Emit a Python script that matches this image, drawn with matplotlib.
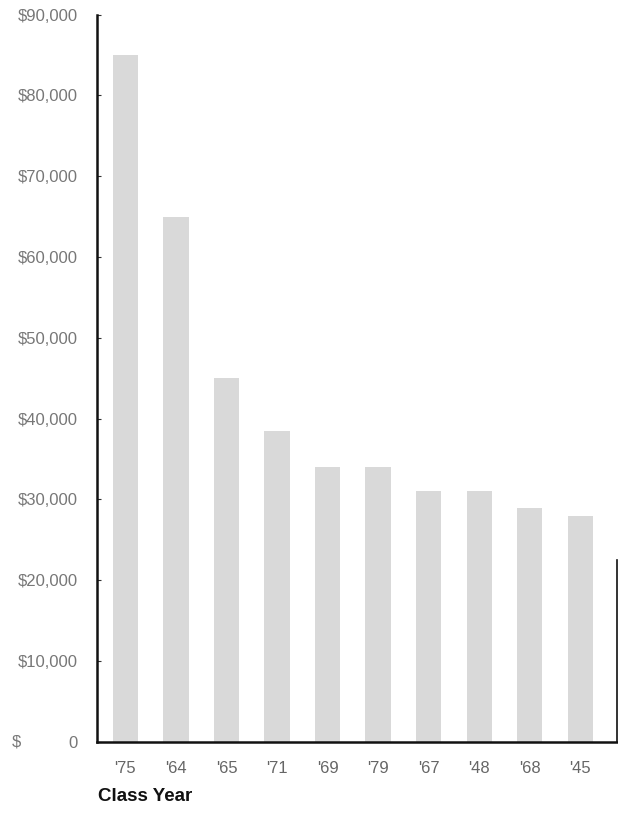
import matplotlib.pyplot as plt
from matplotlib.ticker import FuncFormatter

# Data
class_years = ["'75", "'64", "'65", "'71", "'69", "'79", "'67", "'48", "'68", "'45"]
gifts = [85000, 65000, 45000, 38500, 34000, 34000, 31000, 31000, 29000, 28000]
y_ticks = list(range(0, 90001, 10000))

fig = plt.figure(figsize=(6.18, 8.17), dpi=100)
ax = fig.add_axes([0.157, 0.092, 0.841, 0.89])

x = range(len(class_years))
ax.bar(x, gifts, width=0.5, color='#d9d9d9', edgecolor='none')

ax.set_xlim(-0.56, 9.72)
ax.set_ylim(0, 90000)
ax.set_xticks(list(x))
ax.set_xticklabels(class_years)
ax.set_yticks(y_ticks)


def money(v, pos):
    if v == 0:
        return '0'
    return '${:,.0f}'.format(v)


ax.yaxis.set_major_formatter(FuncFormatter(money))
# the lone "$" of the zero label sits at the far left
ax.text(-0.164, 0, '$', transform=ax.get_yaxis_transform(), ha='left', va='center',
        fontsize=12, color='#777777', family='Liberation Sans')

for lab in ax.get_yticklabels() + ax.get_xticklabels():
    lab.set_family('Liberation Sans')
    lab.set_fontsize(12)
    lab.set_color('#777777')

ax.tick_params(axis='y', direction='in', length=3, width=0.8, pad=14, colors='#333333',
               labelcolor='#777777')
ax.tick_params(axis='x', length=0, pad=14, labelcolor='#666666')

for side in ['top', 'right']:
    ax.spines[side].set_visible(False)
ax.spines['left'].set_linewidth(1.8)
ax.spines['bottom'].set_linewidth(1.8)
ax.spines['left'].set_color('#111111')
ax.spines['bottom'].set_color('#111111')

# short stub of the right frame line
ax.axvline(9.72, ymin=0, ymax=0.25, color='#111111', linewidth=1.2, clip_on=False)

fig.text(0.158, 0.02, 'Class Year', fontsize=13.5, fontweight='bold',
         family=['Liberation Sans Narrow', 'Liberation Sans'], color='#111111')

fig.savefig('out.png', dpi=100)
